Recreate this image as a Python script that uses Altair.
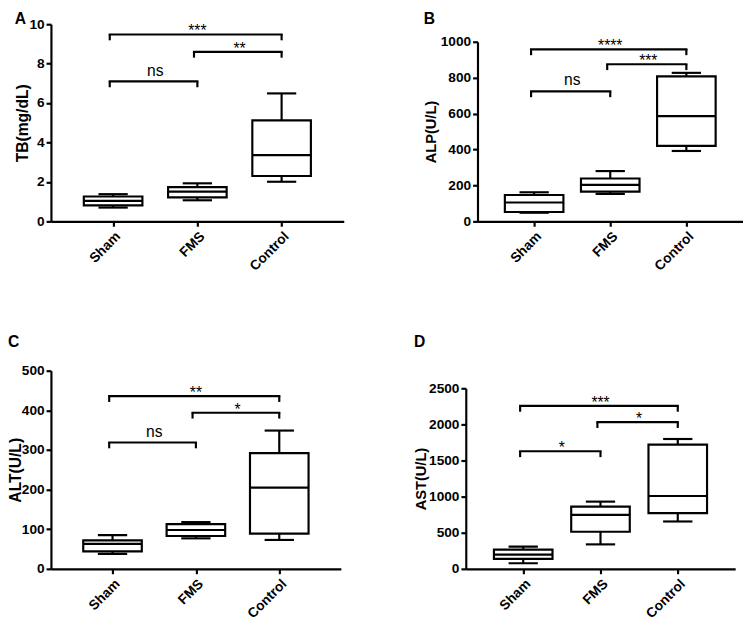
import altair as alt
import pandas as pd

categories = ["Sham", "FMS", "Control"]

# Panel A: TB(mg/dL)
a_min = [0.70, 1.07, 2.01]
a_q1 = [0.81, 1.22, 2.30]
a_med = [1.04, 1.51, 3.36]
a_q3 = [1.26, 1.74, 5.12]
a_max = [1.38, 1.93, 6.49]

# Panel B: ALP(U/L)
b_min = [48, 153, 392]
b_q1 = [52, 166, 420]
b_med = [105, 203, 586]
b_q3 = [147, 239, 807]
b_max = [162, 280, 827]

# Panel C: ALT(U/L)
c_min = [38, 77, 73]
c_q1 = [44, 83, 89]
c_med = [63, 98, 205]
c_q3 = [72, 113, 292]
c_max = [85, 118, 349]

# Panel D: AST(U/L)
d_min = [78, 339, 656]
d_q1 = [138, 514, 771]
d_med = [197, 748, 1009]
d_q3 = [266, 862, 1720]
d_max = [307, 931, 1798]

# Significance brackets: (from group, to group, level, label)
a_brackets = [("Sham", "Control", 9.48, "***"), ("FMS", "Control", 8.6, "**"), ("Sham", "FMS", 7.1, "ns")]
b_brackets = [("Sham", "Control", 958, "****"), ("FMS", "Control", 875, "***"), ("Sham", "FMS", 724, "ns")]
c_brackets = [("Sham", "Control", 436, "**"), ("FMS", "Control", 394, "*"), ("Sham", "FMS", 319, "ns")]
d_brackets = [("Sham", "Control", 2257, "***"), ("FMS", "Control", 2032, "*"), ("Sham", "FMS", 1628, "*")]

FONT = "Liberation Sans"
LW = 2.2
label_expr = "[" + ",".join("'%s'" % c for c in categories) + "][datum.value]"


def title(letter, offset):
    return alt.TitleParams(text=letter, anchor="start", frame="bounds",
                           fontSize=16, fontWeight="bold", font=FONT,
                           color="black", offset=offset)


def panel(ytitle, ymax, ystep, mins, q1s, meds, q3s, maxs, brackets,
          width, height, yfont, title_x):
    idx = {c: i for i, c in enumerate(categories)}
    box = pd.DataFrame({
        "group": categories,
        "pos": [idx[c] for c in categories],
        "min": mins, "q1": q1s, "median": meds, "q3": q3s, "max": maxs,
    })
    br = pd.DataFrame({
        "x1": [idx[b[0]] for b in brackets],
        "x2": [idx[b[1]] for b in brackets],
        "level": [b[2] for b in brackets],
        "label": [b[3] for b in brackets],
    })
    xscale = alt.Scale(domain=[-0.68, 2.68], nice=False, zero=False)
    yscale = alt.Scale(domain=[0, ymax], nice=False)
    xaxis = alt.Axis(values=[0, 1, 2], labelExpr=label_expr, labelAngle=-45,
                     labelPadding=3, title=None, labelOverlap=False)
    yaxis = alt.Axis(values=list(range(0, int(ymax) + 1, ystep)), title=ytitle,
                     titleFontSize=yfont, titleX=title_x, labelPadding=2,
                     format="d", labelOverlap=False)

    def X(field):
        return alt.X(field, scale=xscale, axis=xaxis)

    def Y(field):
        return alt.Y(field, scale=yscale, axis=yaxis)

    base = alt.Chart(box)
    whisk_lo = base.mark_rule(color="black", strokeWidth=LW).encode(
        x=X("pos:Q"), y=Y("min:Q"), y2="q1:Q")
    whisk_hi = base.mark_rule(color="black", strokeWidth=LW).encode(
        x=X("pos:Q"), y=Y("q3:Q"), y2="max:Q")
    cap_lo = base.mark_tick(orient="horizontal", size=30, thickness=LW, color="black",
                            opacity=1).encode(x=X("pos:Q"), y=Y("min:Q"))
    cap_hi = base.mark_tick(orient="horizontal", size=30, thickness=LW, color="black",
                            opacity=1).encode(x=X("pos:Q"), y=Y("max:Q"))
    boxes = base.mark_bar(size=60, fill="white", stroke="black", strokeWidth=LW).encode(
        x=X("pos:Q"), y=Y("q1:Q"), y2="q3:Q")
    med = base.mark_tick(orient="horizontal", size=60, thickness=LW, color="black",
                         opacity=1).encode(x=X("pos:Q"), y=Y("median:Q"))

    bb = alt.Chart(br).transform_calculate(
        xl="datum.x1 - 0.04", mid="(datum.x1 + datum.x2) / 2")
    hline = bb.mark_rule(color="black", strokeWidth=LW, strokeCap="square").encode(
        x=X("xl:Q"), x2="x2:Q", y=Y("level:Q"))
    leg_l = bb.mark_tick(orient="vertical", size=6, thickness=LW, color="black",
                         opacity=1, yOffset=3).encode(x=X("xl:Q"), y=Y("level:Q"))
    leg_r = bb.mark_tick(orient="vertical", size=6, thickness=LW, color="black",
                         opacity=1, yOffset=3).encode(x=X("x2:Q"), y=Y("level:Q"))
    txt_star = bb.transform_filter("datum.label != 'ns'").mark_text(
        baseline="alphabetic", dy=2, fontSize=16, font=FONT, color="black").encode(
        x=X("mid:Q"), y=Y("level:Q"), text="label:N")
    txt_ns = bb.transform_filter("datum.label == 'ns'").mark_text(
        baseline="alphabetic", dy=-6, fontSize=16, font=FONT, color="black").encode(
        x=X("mid:Q"), y=Y("level:Q"), text="label:N")

    return alt.layer(whisk_lo, whisk_hi, cap_lo, cap_hi, boxes, med,
                     hline, leg_l, leg_r, txt_star, txt_ns).properties(
        width=width, height=height)


def spacer(width, height):
    return alt.Chart(pd.DataFrame({"v": [0]})).mark_rule(
        opacity=0, strokeWidth=0).encode(
        x=alt.value(0), y=alt.value(0), y2=alt.value(height)
    ).properties(width=width, height=height)


def framed(letter, offset, gap, chart, width):
    return alt.vconcat(spacer(width, gap), chart, spacing=0).properties(
        title=title(letter, offset))


pA = framed("A", -11, 1, panel("TB(mg/dL)", 10, 2, a_min, a_q1, a_med, a_q3, a_max,
                               a_brackets, 300, 202, 16, -21), 300)
pB = framed("B", -11, 19, panel("ALP(U/L)", 1000, 200, b_min, b_q1, b_med, b_q3, b_max,
                                b_brackets, 272, 184, 15, -40), 272)
pC = framed("C", 13, 1, panel("ALT(U/L)", 500, 100, c_min, c_q1, c_med, c_q3, c_max,
                              c_brackets, 297, 203, 16, -28), 297)
pD = framed("D", 13, 19, panel("AST(U/L)", 2500, 500, d_min, d_q1, d_med, d_q3, d_max,
                               d_brackets, 276, 185, 15, -38), 276)

row1 = alt.concat(pA, pB, columns=2, align="none", spacing=82)
row2 = alt.concat(pC, pD, columns=2, align="none", spacing=75)

chart = alt.concat(row1, row2, columns=1, align="none", spacing=62).properties(
    padding={"left": 0, "top": -4, "right": 0, "bottom": 0}
).configure(
    font=FONT
).configure_view(stroke=None).configure_axis(
    grid=False, domainColor="black", domainWidth=LW, tickColor="black",
    tickWidth=LW, tickSize=5, labelFontSize=14, labelFontWeight="bold",
    labelColor="black", labelFont=FONT, titleFont=FONT, titleFontWeight="bold",
    titleColor="black"
)

chart.save("out.html", embed_options={"renderer": "svg", "actions": False})
